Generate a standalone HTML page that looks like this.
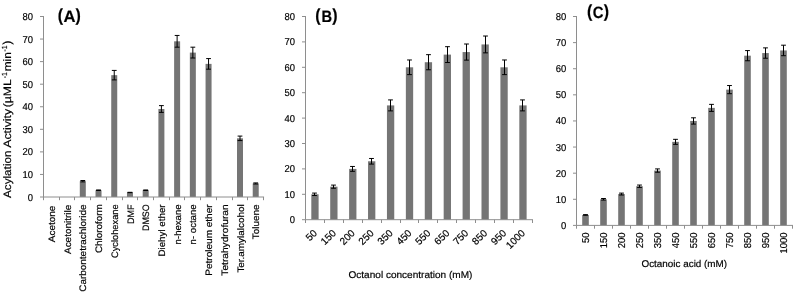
<!DOCTYPE html>
<html><head><meta charset="utf-8"><title>Figure</title>
<style>
html,body{margin:0;padding:0;background:#fff;}
body{width:793px;height:292px;overflow:hidden;}
svg{display:block;filter:grayscale(1);}
text{font-family:"Liberation Sans",sans-serif;fill:#000;text-rendering:geometricPrecision;stroke:#000;stroke-width:0.18px;}
</style></head><body>
<svg width="793" height="292" viewBox="0 0 793 292">
<rect width="793" height="292" fill="#fff"/>
<rect x="79.80" y="181.21" width="6.00" height="15.79" fill="#757575"/>
<rect x="95.52" y="190.23" width="6.00" height="6.77" fill="#757575"/>
<rect x="111.24" y="75.16" width="6.00" height="121.84" fill="#757575"/>
<rect x="126.96" y="192.49" width="6.00" height="4.51" fill="#757575"/>
<rect x="142.68" y="190.23" width="6.00" height="6.77" fill="#757575"/>
<rect x="158.40" y="109.01" width="6.00" height="87.99" fill="#757575"/>
<rect x="174.12" y="41.32" width="6.00" height="155.68" fill="#757575"/>
<rect x="189.84" y="52.60" width="6.00" height="144.40" fill="#757575"/>
<rect x="205.56" y="63.88" width="6.00" height="133.12" fill="#757575"/>
<rect x="237.00" y="138.34" width="6.00" height="58.66" fill="#757575"/>
<rect x="252.72" y="183.46" width="6.00" height="13.54" fill="#757575"/>
<path d="M43.50 16.00V197.00M40.00 197.00H264.08" fill="none" stroke="#8e8e8e" stroke-width="1"/>
<path d="M40.00 174.44H43.50M40.00 151.88H43.50M40.00 129.31H43.50M40.00 106.75H43.50M40.00 84.19H43.50M40.00 61.62H43.50M40.00 39.06H43.50M40.00 16.50H43.50M43.50 197.00V200.20M59.50 197.00V200.20M74.50 197.00V200.20M90.50 197.00V200.20M106.50 197.00V200.20M122.50 197.00V200.20M137.50 197.00V200.20M153.50 197.00V200.20M169.50 197.00V200.20M184.50 197.00V200.20M200.50 197.00V200.20M216.50 197.00V200.20M232.50 197.00V200.20M247.50 197.00V200.20M263.50 197.00V200.20" fill="none" stroke="#8e8e8e" stroke-width="1"/>
<path d="M82.80 180.53V181.88M80.40 180.53H85.20M80.40 181.88H85.20M98.52 189.96V190.50M96.12 189.96H100.92M96.12 190.50H100.92M114.24 70.42V79.90M111.84 70.42H116.64M111.84 79.90H116.64M129.96 192.31V192.67M127.56 192.31H132.36M127.56 192.67H132.36M145.68 189.96V190.50M143.28 189.96H148.08M143.28 190.50H148.08M161.40 105.62V112.39M159.00 105.62H163.80M159.00 112.39H163.80M177.12 35.45V47.18M174.72 35.45H179.52M174.72 47.18H179.52M192.84 47.18V58.01M190.44 47.18H195.24M190.44 58.01H195.24M208.56 58.58V69.18M206.16 58.58H210.96M206.16 69.18H210.96M240.00 136.08V140.59M237.60 136.08H242.40M237.60 140.59H242.40M255.72 182.92V184.00M253.32 182.92H258.12M253.32 184.00H258.12" fill="none" stroke="#000" stroke-width="1"/>
<text x="33.00" y="200.50" text-anchor="end" font-size="10.0" textLength="5.25" lengthAdjust="spacingAndGlyphs">0</text>
<text x="33.00" y="177.94" text-anchor="end" font-size="10.0" textLength="10.50" lengthAdjust="spacingAndGlyphs">10</text>
<text x="33.00" y="155.38" text-anchor="end" font-size="10.0" textLength="10.50" lengthAdjust="spacingAndGlyphs">20</text>
<text x="33.00" y="132.81" text-anchor="end" font-size="10.0" textLength="10.50" lengthAdjust="spacingAndGlyphs">30</text>
<text x="33.00" y="110.25" text-anchor="end" font-size="10.0" textLength="10.50" lengthAdjust="spacingAndGlyphs">40</text>
<text x="33.00" y="87.69" text-anchor="end" font-size="10.0" textLength="10.50" lengthAdjust="spacingAndGlyphs">50</text>
<text x="33.00" y="65.12" text-anchor="end" font-size="10.0" textLength="10.50" lengthAdjust="spacingAndGlyphs">60</text>
<text x="33.00" y="42.56" text-anchor="end" font-size="10.0" textLength="10.50" lengthAdjust="spacingAndGlyphs">70</text>
<text x="33.00" y="20.00" text-anchor="end" font-size="10.0" textLength="10.50" lengthAdjust="spacingAndGlyphs">80</text>
<text transform="translate(54.96 205.60) rotate(-90)" text-anchor="end" font-size="9.4" textLength="36.60" lengthAdjust="spacingAndGlyphs">Acetone</text>
<text transform="translate(70.68 204.80) rotate(-90)" text-anchor="end" font-size="9.4" textLength="49.20" lengthAdjust="spacingAndGlyphs">Acetonitrile</text>
<text transform="translate(86.40 204.40) rotate(-90)" text-anchor="end" font-size="9.4" textLength="87.40" lengthAdjust="spacingAndGlyphs">Carbontetrachloride</text>
<text transform="translate(102.12 204.20) rotate(-90)" text-anchor="end" font-size="9.4" textLength="48.90" lengthAdjust="spacingAndGlyphs">Chloroform</text>
<text transform="translate(117.84 204.40) rotate(-90)" text-anchor="end" font-size="9.4" textLength="53.60" lengthAdjust="spacingAndGlyphs">Cyclohexane</text>
<text transform="translate(133.56 204.50) rotate(-90)" text-anchor="end" font-size="9.4" textLength="19.50" lengthAdjust="spacingAndGlyphs">DMF</text>
<text transform="translate(149.28 204.40) rotate(-90)" text-anchor="end" font-size="9.4" textLength="26.60" lengthAdjust="spacingAndGlyphs">DMSO</text>
<text transform="translate(165.00 204.40) rotate(-90)" text-anchor="end" font-size="9.4" textLength="52.20" lengthAdjust="spacingAndGlyphs">Diehyl ether</text>
<text transform="translate(180.72 204.40) rotate(-90)" text-anchor="end" font-size="9.4" textLength="40.00" lengthAdjust="spacingAndGlyphs">n-hexane</text>
<text transform="translate(196.44 204.40) rotate(-90)" text-anchor="end" font-size="9.4" textLength="40.00" lengthAdjust="spacingAndGlyphs">n- octane</text>
<text transform="translate(212.16 204.40) rotate(-90)" text-anchor="end" font-size="9.4" textLength="71.30" lengthAdjust="spacingAndGlyphs">Petroleum ether</text>
<text transform="translate(227.88 204.40) rotate(-90)" text-anchor="end" font-size="9.4" textLength="71.30" lengthAdjust="spacingAndGlyphs">Tetrahydrofuran</text>
<text transform="translate(243.60 204.40) rotate(-90)" text-anchor="end" font-size="9.4" textLength="68.20" lengthAdjust="spacingAndGlyphs">Ter.amylalcohol</text>
<text transform="translate(259.32 204.40) rotate(-90)" text-anchor="end" font-size="9.4" textLength="34.80" lengthAdjust="spacingAndGlyphs">Toluene</text>
<rect x="311.31" y="194.30" width="7.30" height="25.40" fill="#757575"/>
<rect x="330.22" y="186.68" width="7.30" height="33.02" fill="#757575"/>
<rect x="349.12" y="168.90" width="7.30" height="50.80" fill="#757575"/>
<rect x="368.04" y="161.28" width="7.30" height="58.42" fill="#757575"/>
<rect x="386.95" y="105.40" width="7.30" height="114.30" fill="#757575"/>
<rect x="405.86" y="67.30" width="7.30" height="152.40" fill="#757575"/>
<rect x="424.77" y="62.22" width="7.30" height="157.48" fill="#757575"/>
<rect x="443.68" y="54.60" width="7.30" height="165.10" fill="#757575"/>
<rect x="462.59" y="52.06" width="7.30" height="167.64" fill="#757575"/>
<rect x="481.50" y="44.44" width="7.30" height="175.26" fill="#757575"/>
<rect x="500.41" y="67.30" width="7.30" height="152.40" fill="#757575"/>
<rect x="519.32" y="105.40" width="7.30" height="114.30" fill="#757575"/>
<path d="M305.50 16.00V219.70M302.00 219.70H532.92" fill="none" stroke="#8e8e8e" stroke-width="1"/>
<path d="M302.00 194.30H305.50M302.00 168.90H305.50M302.00 143.50H305.50M302.00 118.10H305.50M302.00 92.70H305.50M302.00 67.30H305.50M302.00 41.90H305.50M302.00 16.50H305.50M305.50 219.70V223.00M324.50 219.70V223.00M343.50 219.70V223.00M362.50 219.70V223.00M381.50 219.70V223.00M400.50 219.70V223.00M418.50 219.70V223.00M437.50 219.70V223.00M456.50 219.70V223.00M475.50 219.70V223.00M494.50 219.70V223.00M513.50 219.70V223.00M532.50 219.70V223.00" fill="none" stroke="#8e8e8e" stroke-width="1"/>
<path d="M314.50 193.08V195.52M312.10 193.08H316.90M312.10 195.52H316.90M333.50 185.10V188.26M331.10 185.10H335.90M331.10 188.26H335.90M352.50 166.46V171.34M350.10 166.46H354.90M350.10 171.34H354.90M371.50 158.48V164.08M369.10 158.48H373.90M369.10 164.08H373.90M390.50 99.91V110.89M388.10 99.91H392.90M388.10 110.89H392.90M409.50 59.98V74.62M407.10 59.98H411.90M407.10 74.62H411.90M428.50 54.66V69.78M426.10 54.66H430.90M426.10 69.78H430.90M447.50 46.68V62.52M445.10 46.68H449.90M445.10 62.52H449.90M466.50 44.01V60.11M464.10 44.01H468.90M464.10 60.11H468.90M485.50 36.03V52.85M483.10 36.03H487.90M483.10 52.85H487.90M504.50 59.98V74.62M502.10 59.98H506.90M502.10 74.62H506.90M522.50 99.91V110.89M520.10 99.91H524.90M520.10 110.89H524.90" fill="none" stroke="#000" stroke-width="1"/>
<text x="295.00" y="223.20" text-anchor="end" font-size="10.0" textLength="5.25" lengthAdjust="spacingAndGlyphs">0</text>
<text x="295.00" y="197.80" text-anchor="end" font-size="10.0" textLength="10.50" lengthAdjust="spacingAndGlyphs">10</text>
<text x="295.00" y="172.40" text-anchor="end" font-size="10.0" textLength="10.50" lengthAdjust="spacingAndGlyphs">20</text>
<text x="295.00" y="147.00" text-anchor="end" font-size="10.0" textLength="10.50" lengthAdjust="spacingAndGlyphs">30</text>
<text x="295.00" y="121.60" text-anchor="end" font-size="10.0" textLength="10.50" lengthAdjust="spacingAndGlyphs">40</text>
<text x="295.00" y="96.20" text-anchor="end" font-size="10.0" textLength="10.50" lengthAdjust="spacingAndGlyphs">50</text>
<text x="295.00" y="70.80" text-anchor="end" font-size="10.0" textLength="10.50" lengthAdjust="spacingAndGlyphs">60</text>
<text x="295.00" y="45.40" text-anchor="end" font-size="10.0" textLength="10.50" lengthAdjust="spacingAndGlyphs">70</text>
<text x="295.00" y="20.00" text-anchor="end" font-size="10.0" textLength="10.50" lengthAdjust="spacingAndGlyphs">80</text>
<text transform="translate(317.75 233.70) rotate(-45)" text-anchor="end" font-size="10.0" textLength="11.20" lengthAdjust="spacingAndGlyphs">50</text>
<text transform="translate(336.67 233.70) rotate(-45)" text-anchor="end" font-size="10.0" textLength="16.80" lengthAdjust="spacingAndGlyphs">150</text>
<text transform="translate(355.57 233.70) rotate(-45)" text-anchor="end" font-size="10.0" textLength="16.80" lengthAdjust="spacingAndGlyphs">200</text>
<text transform="translate(374.49 233.70) rotate(-45)" text-anchor="end" font-size="10.0" textLength="16.80" lengthAdjust="spacingAndGlyphs">250</text>
<text transform="translate(393.40 233.70) rotate(-45)" text-anchor="end" font-size="10.0" textLength="16.80" lengthAdjust="spacingAndGlyphs">350</text>
<text transform="translate(412.31 233.70) rotate(-45)" text-anchor="end" font-size="10.0" textLength="16.80" lengthAdjust="spacingAndGlyphs">450</text>
<text transform="translate(431.22 233.70) rotate(-45)" text-anchor="end" font-size="10.0" textLength="16.80" lengthAdjust="spacingAndGlyphs">550</text>
<text transform="translate(450.12 233.70) rotate(-45)" text-anchor="end" font-size="10.0" textLength="16.80" lengthAdjust="spacingAndGlyphs">650</text>
<text transform="translate(469.04 233.70) rotate(-45)" text-anchor="end" font-size="10.0" textLength="16.80" lengthAdjust="spacingAndGlyphs">750</text>
<text transform="translate(487.94 233.70) rotate(-45)" text-anchor="end" font-size="10.0" textLength="16.80" lengthAdjust="spacingAndGlyphs">850</text>
<text transform="translate(506.86 233.70) rotate(-45)" text-anchor="end" font-size="10.0" textLength="16.80" lengthAdjust="spacingAndGlyphs">950</text>
<text transform="translate(525.76 233.70) rotate(-45)" text-anchor="end" font-size="10.0" textLength="22.40" lengthAdjust="spacingAndGlyphs">1000</text>
<rect x="582.20" y="214.96" width="6.60" height="10.44" fill="#757575"/>
<rect x="600.20" y="199.29" width="6.60" height="26.11" fill="#757575"/>
<rect x="618.20" y="194.06" width="6.60" height="31.34" fill="#757575"/>
<rect x="636.20" y="186.23" width="6.60" height="39.17" fill="#757575"/>
<rect x="654.20" y="170.56" width="6.60" height="54.84" fill="#757575"/>
<rect x="672.20" y="141.84" width="6.60" height="83.56" fill="#757575"/>
<rect x="690.20" y="120.95" width="6.60" height="104.45" fill="#757575"/>
<rect x="708.20" y="107.89" width="6.60" height="117.51" fill="#757575"/>
<rect x="726.20" y="89.62" width="6.60" height="135.78" fill="#757575"/>
<rect x="744.20" y="55.67" width="6.60" height="169.73" fill="#757575"/>
<rect x="762.20" y="53.06" width="6.60" height="172.34" fill="#757575"/>
<rect x="780.20" y="50.45" width="6.60" height="174.95" fill="#757575"/>
<path d="M576.50 16.00V225.40M573.00 225.40H793.00" fill="none" stroke="#8e8e8e" stroke-width="1"/>
<path d="M573.00 199.29H576.50M573.00 173.18H576.50M573.00 147.06H576.50M573.00 120.95H576.50M573.00 94.84H576.50M573.00 68.72H576.50M573.00 42.61H576.50M573.00 16.50H576.50M576.50 225.40V228.70M594.50 225.40V228.70M612.50 225.40V228.70M630.50 225.40V228.70M648.50 225.40V228.70M666.50 225.40V228.70M684.50 225.40V228.70M702.50 225.40V228.70M720.50 225.40V228.70M738.50 225.40V228.70M756.50 225.40V228.70M774.50 225.40V228.70M792.50 225.40V228.70" fill="none" stroke="#8e8e8e" stroke-width="1"/>
<path d="M585.50 214.64V215.27M583.10 214.64H587.90M583.10 215.27H587.90M603.50 198.50V200.07M601.10 198.50H605.90M601.10 200.07H605.90M621.50 193.12V195.01M619.10 193.12H623.90M619.10 195.01H623.90M639.50 185.06V187.41M637.10 185.06H641.90M637.10 187.41H641.90M657.50 168.92V172.21M655.10 168.92H659.90M655.10 172.21H659.90M675.50 139.33V144.35M673.10 139.33H677.90M673.10 144.35H677.90M693.50 117.82V124.08M691.10 117.82H695.90M691.10 124.08H695.90M711.50 104.37V111.42M709.10 104.37H713.90M709.10 111.42H713.90M729.50 85.54V93.69M727.10 85.54H731.90M727.10 93.69H731.90M747.50 50.58V60.76M745.10 50.58H749.90M745.10 60.76H749.90M765.50 47.89V58.23M763.10 47.89H767.90M763.10 58.23H767.90M783.50 45.20V55.69M781.10 45.20H785.90M781.10 55.69H785.90" fill="none" stroke="#000" stroke-width="1"/>
<text x="566.30" y="228.90" text-anchor="end" font-size="10.0" textLength="5.25" lengthAdjust="spacingAndGlyphs">0</text>
<text x="566.30" y="202.79" text-anchor="end" font-size="10.0" textLength="10.50" lengthAdjust="spacingAndGlyphs">10</text>
<text x="566.30" y="176.68" text-anchor="end" font-size="10.0" textLength="10.50" lengthAdjust="spacingAndGlyphs">20</text>
<text x="566.30" y="150.56" text-anchor="end" font-size="10.0" textLength="10.50" lengthAdjust="spacingAndGlyphs">30</text>
<text x="566.30" y="124.45" text-anchor="end" font-size="10.0" textLength="10.50" lengthAdjust="spacingAndGlyphs">40</text>
<text x="566.30" y="98.34" text-anchor="end" font-size="10.0" textLength="10.50" lengthAdjust="spacingAndGlyphs">50</text>
<text x="566.30" y="72.22" text-anchor="end" font-size="10.0" textLength="10.50" lengthAdjust="spacingAndGlyphs">60</text>
<text x="566.30" y="46.11" text-anchor="end" font-size="10.0" textLength="10.50" lengthAdjust="spacingAndGlyphs">70</text>
<text x="566.30" y="20.00" text-anchor="end" font-size="10.0" textLength="10.50" lengthAdjust="spacingAndGlyphs">80</text>
<text transform="translate(589.30 232.40) rotate(-90)" text-anchor="end" font-size="10.0" textLength="10.50" lengthAdjust="spacingAndGlyphs">50</text>
<text transform="translate(607.30 232.40) rotate(-90)" text-anchor="end" font-size="10.0" textLength="15.75" lengthAdjust="spacingAndGlyphs">150</text>
<text transform="translate(625.30 232.40) rotate(-90)" text-anchor="end" font-size="10.0" textLength="15.75" lengthAdjust="spacingAndGlyphs">200</text>
<text transform="translate(643.30 232.40) rotate(-90)" text-anchor="end" font-size="10.0" textLength="15.75" lengthAdjust="spacingAndGlyphs">250</text>
<text transform="translate(661.30 232.40) rotate(-90)" text-anchor="end" font-size="10.0" textLength="15.75" lengthAdjust="spacingAndGlyphs">350</text>
<text transform="translate(679.30 232.40) rotate(-90)" text-anchor="end" font-size="10.0" textLength="15.75" lengthAdjust="spacingAndGlyphs">450</text>
<text transform="translate(697.30 232.40) rotate(-90)" text-anchor="end" font-size="10.0" textLength="15.75" lengthAdjust="spacingAndGlyphs">550</text>
<text transform="translate(715.30 232.40) rotate(-90)" text-anchor="end" font-size="10.0" textLength="15.75" lengthAdjust="spacingAndGlyphs">650</text>
<text transform="translate(733.30 232.40) rotate(-90)" text-anchor="end" font-size="10.0" textLength="15.75" lengthAdjust="spacingAndGlyphs">750</text>
<text transform="translate(751.30 232.40) rotate(-90)" text-anchor="end" font-size="10.0" textLength="15.75" lengthAdjust="spacingAndGlyphs">850</text>
<text transform="translate(769.30 232.40) rotate(-90)" text-anchor="end" font-size="10.0" textLength="15.75" lengthAdjust="spacingAndGlyphs">950</text>
<text transform="translate(787.30 232.40) rotate(-90)" text-anchor="end" font-size="10.0" textLength="21.00" lengthAdjust="spacingAndGlyphs">1000</text>
<text x="57.70" y="21.20" font-size="17.6" font-weight="bold" textLength="5.3" lengthAdjust="spacingAndGlyphs">(</text>
<text x="63.40" y="21.70" font-size="16.5" font-weight="bold" textLength="12.00" lengthAdjust="spacingAndGlyphs">A</text>
<text x="75.50" y="21.20" font-size="17.6" font-weight="bold" textLength="5.3" lengthAdjust="spacingAndGlyphs">)</text>
<text x="315.20" y="21.20" font-size="17.6" font-weight="bold" textLength="5.3" lengthAdjust="spacingAndGlyphs">(</text>
<text x="321.50" y="21.70" font-size="16.5" font-weight="bold" textLength="10.60" lengthAdjust="spacingAndGlyphs">B</text>
<text x="332.30" y="21.20" font-size="17.6" font-weight="bold" textLength="5.3" lengthAdjust="spacingAndGlyphs">)</text>
<text x="587.00" y="17.00" font-size="17.6" font-weight="bold" textLength="5.3" lengthAdjust="spacingAndGlyphs">(</text>
<text x="592.80" y="17.50" font-size="16.5" font-weight="bold" textLength="10.70" lengthAdjust="spacingAndGlyphs">C</text>
<text x="603.80" y="17.00" font-size="17.6" font-weight="bold" textLength="5.3" lengthAdjust="spacingAndGlyphs">)</text>
<text x="348.5" y="278" font-size="9.8" textLength="123.9" lengthAdjust="spacingAndGlyphs">Octanol concentration (mM)</text>
<text x="641.5" y="267.1" font-size="9.8" textLength="85.6" lengthAdjust="spacingAndGlyphs">Octanoic acid (mM)</text>
<text transform="translate(11.00 198.00) rotate(-90)" font-size="10.8" textLength="47.50" lengthAdjust="spacingAndGlyphs">Acylation</text>
<text transform="translate(11.00 147.80) rotate(-90)" font-size="10.8" textLength="38.90" lengthAdjust="spacingAndGlyphs">Activity</text>
<text transform="translate(11.00 107.20) rotate(-90)" font-size="10.8" textLength="28.00" lengthAdjust="spacingAndGlyphs">(µML</text>
<text transform="translate(6.90 78.20) rotate(-90)" font-size="7.4" textLength="6.20" lengthAdjust="spacingAndGlyphs">-1</text>
<text transform="translate(11.00 71.30) rotate(-90)" font-size="10.8" textLength="19.20" lengthAdjust="spacingAndGlyphs">min</text>
<text transform="translate(6.90 51.50) rotate(-90)" font-size="7.4" textLength="6.20" lengthAdjust="spacingAndGlyphs">-1</text>
<text transform="translate(11.0 44.6) rotate(-90)" font-size="11.6">)</text>
</svg></body></html>
